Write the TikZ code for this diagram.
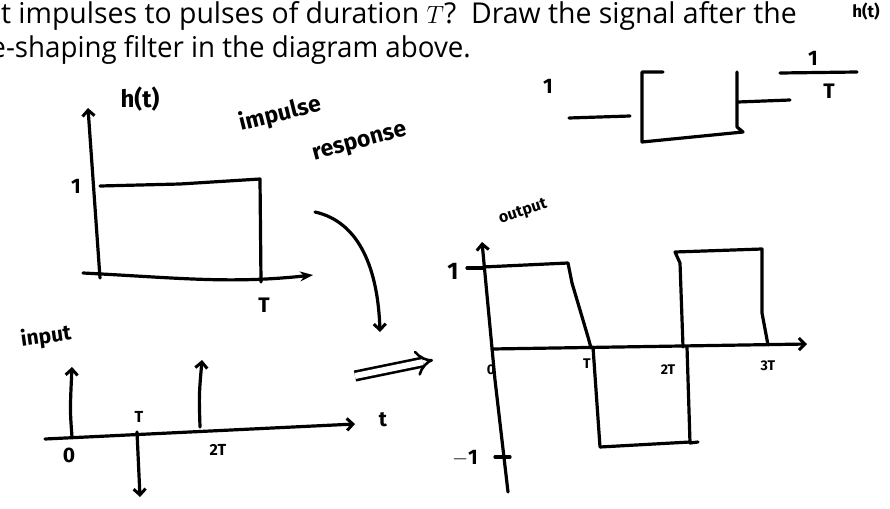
\documentclass[tikz,border=0pt]{standalone}
\usepackage{fontspec}
\usetikzlibrary{arrows.meta}
\newfontfamily\prose{Open Sans}
\newfontfamily\hand{Fira Sans}
\begin{document}
\begin{tikzpicture}[x=1pt,y=-1pt,
  pen/.style={line width=3.2pt, line cap=round, line join=round},
  head/.style={-{Straight Barb[length=6pt,width=12pt,line width=3pt]}},
  fhead/.style={-{Stealth[length=13pt,width=10pt]}},
  prosetxt/.style={font=\prose\fontsize{28.7}{32}\selectfont, inner sep=0pt, anchor=base east},
  lbl/.style={font=\hand\bfseries\fontsize{21}{21}\selectfont, inner sep=0pt},
  slbl/.style={font=\hand\bfseries\fontsize{14}{14}\selectfont, inner sep=0pt}]
\useasboundingbox (0,0) rectangle (890,508);
\clip (0,0) rectangle (890,508);

% printed question text
\node[prosetxt] (q1) at (797,24) {\scalebox{0.99}[1]{t impulses to pulses of duration $T$?\ \ Draw the signal after the}};
\node[prosetxt] (q2) at (471,58) {\scalebox{0.965}[1]{e-shaping filter in the diagram above.}};

% top-right filter sketch
\node[lbl] (one0) at (548,86) {1};
\coordinate (fin) at (569,118);
\coordinate (bl) at (642,142);
\draw[pen] (fin) -- (630,116);
\draw[pen] (663,72) -- (642,72) -- (bl) -- (743,132) -- (737,127) -- (737,72);
\draw[pen] (738,102) -- (790,100);
\draw[pen] (780,73) -- (857,72);
\node[lbl] (oneT) at (813,58) {1};
\node[lbl] (Tden) at (829,91) {T};
\node[lbl, font=\hand\bfseries\fontsize{17}{17}\selectfont] (htr) at (866,12) {h(t)};

% impulse response plot
\coordinate (ho) at (100,278);
\draw[pen, head] (ho) -- (88,108);
\node[lbl, font=\hand\bfseries\fontsize{24}{24}\selectfont] (ht) at (140,99) {h(t)};
\node[lbl] (h1) at (76,186) {1};
\draw[pen] (100,186) -- (180,184) -- (260,179) -- (261,282);
\draw[pen, fhead] (83,273) .. controls (180,278) and (230,284) .. (313,275);
\node[lbl] (hT) at (264,305) {T};
\node[lbl, font=\hand\bfseries\fontsize{23}{23}\selectfont, rotate=14] (imp) at (280,114) {impulse};
\node[lbl, font=\hand\bfseries\fontsize{23}{23}\selectfont, rotate=15] (resp) at (360,144) {response};
\coordinate (cs) at (315,212);
\coordinate (ce) at (380,332);
\draw[pen, head] (cs) .. controls (360,222) and (378,270) .. (ce);

% input plot
\node[lbl, rotate=8] (inp) at (46,337) {input};
\draw[pen, head] (45,439) -- (355,424);
\node[lbl] (it) at (383,420) {t};
\draw[pen, head] (72,437) .. controls (70,410) .. (72,367);
\node[lbl] (i0) at (69,455) {0};
\draw[pen, head] (137,432) -- (140,497);
\node[lbl, font=\hand\bfseries\fontsize{16}{16}\selectfont] (iT) at (139,417) {T};
\draw[pen, head] (200,427) .. controls (199,395) .. (202,360);
\node[lbl, font=\hand\bfseries\fontsize{16}{16}\selectfont] (i2T) at (218,450) {2T};

% double arrow
\draw[line width=2.6pt, double distance=6pt, -{Implies}] (355,376) -- (433,360);

% output plot
\node[lbl, font=\hand\bfseries\fontsize{16}{16}\selectfont, rotate=18] (outl) at (523,212) {output};
\draw[pen, head] (508,492) -- (495,380) -- (482,242);
\draw[pen] (467,268) -- (483,268);
\node[lbl, font=\hand\bfseries\fontsize{24}{24}\selectfont] (o1) at (453,271) {1};
\draw[pen] (483,267) -- (568,263) -- (572,283) -- (588,337) -- (591,348);
\draw[pen, head] (492,349) -- (807,344);
\draw[pen] (593,347) -- (600,447) -- (690,442);
\draw[pen] (687,347) -- (690,443) -- (698,442);
\draw[pen] (683,347) -- (680,263) -- (675,252) -- (762,249) -- (762,313) -- (768,345);
\draw[pen] (495,457) -- (510,457);
\node[lbl] (om1) at (465,458) {$-$1};
\node[slbl] (o0) at (491,370) {0};
\node[slbl] (oT) at (587,364) {T};
\node[slbl] (o2T) at (668,370) {2T};
\node[slbl] (o3T) at (768,366) {3T};
\end{tikzpicture}
\end{document}
